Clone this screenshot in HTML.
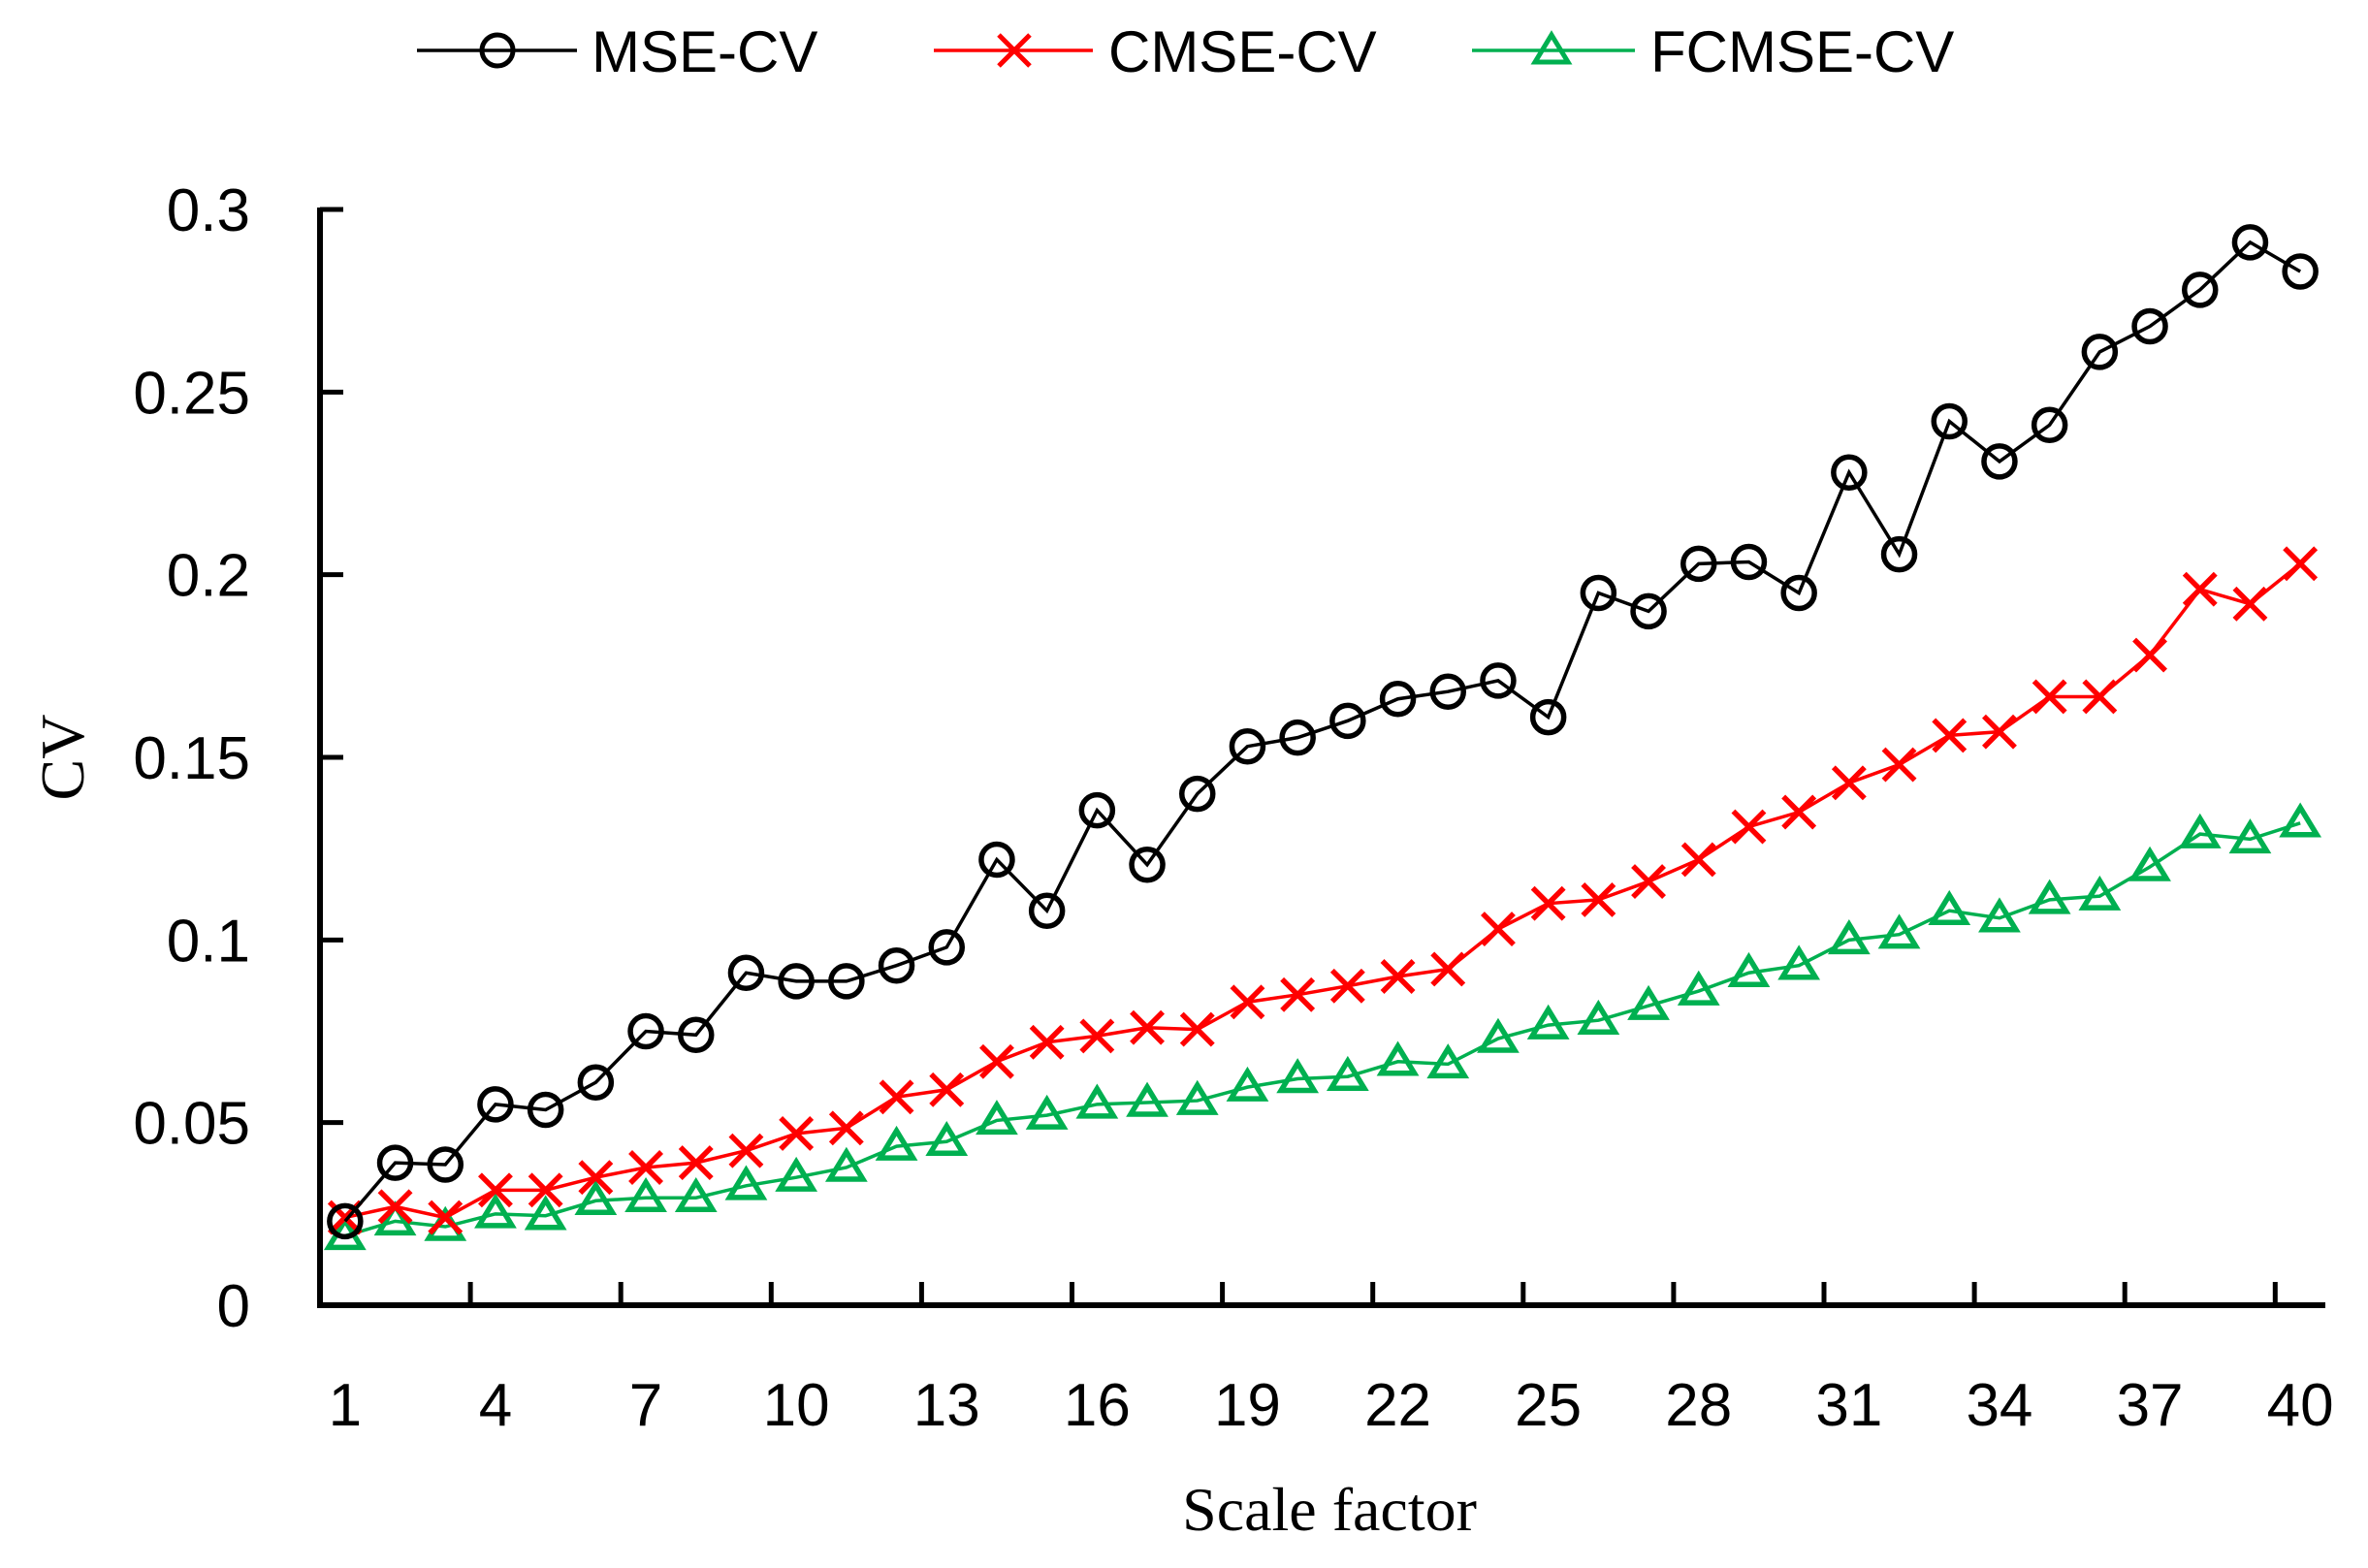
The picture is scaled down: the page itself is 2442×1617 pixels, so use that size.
<!DOCTYPE html>
<html><head><meta charset="utf-8"><style>html,body{margin:0;padding:0;background:#fff}svg{display:block}</style></head>
<body>
<svg id="chart" width="2442" height="1617" viewBox="0 0 2442 1617" xmlns="http://www.w3.org/2000/svg">
<g id="legend">
  <g>
    <line x1="430" y1="52" x2="595" y2="52" stroke="#000" stroke-width="3.5"/>
    <circle cx="513" cy="52" r="16" fill="none" stroke="#000" stroke-width="5"/>
    <text x="610" y="74" font-family="Liberation Sans, sans-serif" font-size="60">MSE-CV</text>
  </g>
  <g>
    <line x1="963" y1="52" x2="1127" y2="52" stroke="#f00" stroke-width="3.5"/>
    <path d="M1030 36L1062 68M1030 68L1062 36" stroke="#f00" stroke-width="5"/>
    <text x="1143" y="74" font-family="Liberation Sans, sans-serif" font-size="60">CMSE-CV</text>
  </g>
  <g>
    <line x1="1518" y1="52" x2="1686" y2="52" stroke="#00b050" stroke-width="3.5"/>
    <path d="M1600 36L1617 64L1583 64Z" fill="none" stroke="#00b050" stroke-width="5"/>
    <text x="1702" y="74" font-family="Liberation Sans, sans-serif" font-size="60">FCMSE-CV</text>
  </g>
</g>
<g id="axes"></g>
<g id="series"></g>
<text x="1371" y="1578" text-anchor="middle" font-family="Liberation Serif, serif" font-size="64">Scale factor</text>
<text transform="translate(86,781) rotate(-90)" text-anchor="middle" font-family="Liberation Serif, serif" font-size="64">CV</text>
</svg>
<script>
const categories = Array.from({length:40},(_,i)=>i+1);
const xTickLabels = [1,4,7,10,13,16,19,22,25,28,31,34,37,40];
const yTickValues = [0,0.05,0.1,0.15,0.2,0.25,0.3];
const yTickLabels = ["0","0.05","0.1","0.15","0.2","0.25","0.3"];
const mseCV = [0.023,0.039,0.0385,0.055,0.0535,0.061,0.075,0.074,0.091,0.0887,0.0887,0.093,0.098,0.122,0.108,0.1355,0.1206,0.140,0.153,0.1554,0.160,0.166,0.168,0.171,0.161,0.195,0.190,0.203,0.2035,0.195,0.228,0.2056,0.242,0.231,0.241,0.261,0.268,0.278,0.291,0.283];
const cmseCV = [0.024,0.027,0.024,0.0315,0.0315,0.035,0.0377,0.039,0.0423,0.047,0.0485,0.057,0.059,0.0667,0.072,0.0737,0.076,0.0755,0.083,0.085,0.0874,0.090,0.092,0.103,0.110,0.111,0.116,0.122,0.131,0.135,0.143,0.148,0.156,0.157,0.1666,0.1666,0.178,0.196,0.192,0.203];
const fcmseCV = [0.019,0.023,0.0215,0.025,0.0245,0.0286,0.0294,0.0294,0.0327,0.035,0.0377,0.0435,0.0448,0.0506,0.052,0.055,0.0555,0.056,0.0597,0.062,0.0626,0.0667,0.066,0.073,0.0767,0.078,0.082,0.086,0.091,0.093,0.100,0.1015,0.108,0.106,0.111,0.112,0.120,0.129,0.1276,0.132];

const NS="http://www.w3.org/2000/svg";
const X0=330, CW=51.7, Y0=1346, YTOP=216, YMAX=0.3;
const xs = c => X0 + (c-0.5)*CW;
const ys = v => Y0 - v/YMAX*(Y0-YTOP);
function mk(tag, attrs, parent){const e=document.createElementNS(NS,tag);for(const k in attrs)e.setAttribute(k,attrs[k]);parent.appendChild(e);return e;}
const axes=document.getElementById('axes'), series=document.getElementById('series');
let e;
e=mk('line',{x1:X0,y1:YTOP-2,x2:X0,y2:Y0+3,stroke:'#000','stroke-width':6},axes);


e=mk('line',{x1:X0-3,y1:Y0,x2:X0+40*CW,y2:Y0,stroke:'#000','stroke-width':6},axes);


yTickValues.forEach((v,i)=>{
  e=mk('line',{x1:X0,y1:ys(v),x2:X0+24,y2:ys(v),stroke:'#000','stroke-width':5},axes);
  
  
  e=mk('text',{x:258,y:ys(v)+22,'text-anchor':'end','font-family':'Liberation Sans, sans-serif','font-size':62},axes);
  e.textContent=yTickLabels[i];
  
  
});
for(let k=3;k<40;k+=3){
  e=mk('line',{x1:X0+k*CW,y1:Y0,x2:X0+k*CW,y2:Y0-24,stroke:'#000','stroke-width':5},axes);
  
  
}
xTickLabels.forEach(c=>{
  e=mk('text',{x:xs(c),y:1470,'text-anchor':'middle','font-family':'Liberation Sans, sans-serif','font-size':62},axes);
  e.textContent=String(c);
  
  
});
function drawSeries(vals,color,marker,name){
  const g=mk('g',{},series);
  
  
  const pts=vals.map((v,i)=>xs(categories[i])+','+ys(v)).join(' ');
  e=mk('polyline',{points:pts,fill:'none',stroke:color,'stroke-width':3.5},g);
  
  
  vals.forEach((v,i)=>{
    const x=xs(categories[i]), y=ys(v);
    if(marker==='circle') e=mk('circle',{cx:x,cy:y,r:16,fill:'none',stroke:color,'stroke-width':5.5},g);
    else if(marker==='x') e=mk('path',{d:`M${x-16} ${y-16}L${x+16} ${y+16}M${x-16} ${y+16}L${x+16} ${y-16}`,stroke:color,'stroke-width':5.5},g);
    else e=mk('path',{d:`M${x} ${y-16}L${x+17} ${y+12}L${x-17} ${y+12}Z`,fill:'none',stroke:color,'stroke-width':5.5},g);
    
    
  });
}
drawSeries(fcmseCV,'#00b050','tri','fcmse-cv-series');
drawSeries(cmseCV,'#f00','x','cmse-cv-series');
drawSeries(mseCV,'#000','circle','mse-cv-series');
</script>
</body></html>
